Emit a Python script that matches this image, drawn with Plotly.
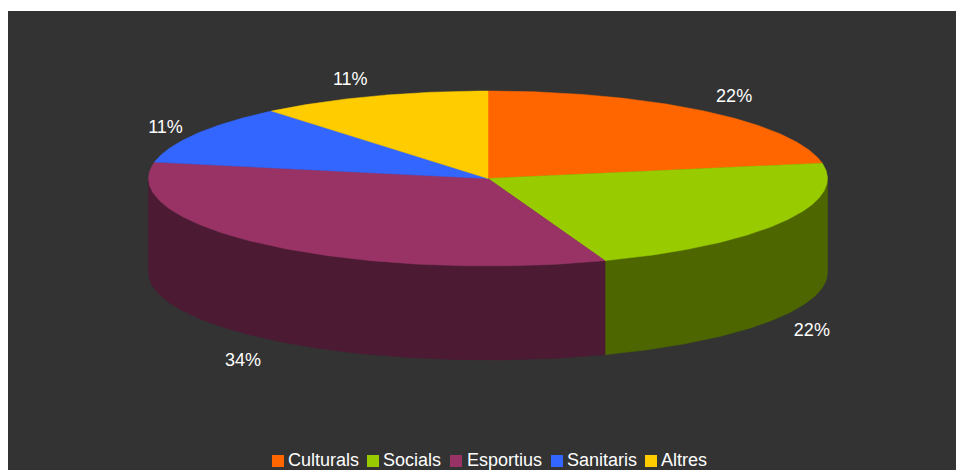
import numpy as np
import plotly.graph_objects as go

# --- data ---
categories = ["Culturals", "Socials", "Esportius", "Sanitaris", "Altres"]
values = [22.2, 22.2, 33.6, 11.0, 11.0]
percent_labels = ["22%", "22%", "34%", "11%", "11%"]

# --- style ---
top_colors = ["#ff6600", "#99cc00", "#993366", "#3366ff", "#ffcc00"]
wall_colors = ["#803300", "#4d6600", "#4d1a33", "#1a3380", "#806600"]
BG = "#333333"
FONT = "Liberation Sans"
FONT_SIZE = 18
W, H = 956, 470
LEFT, TOP = 8, 11
CX, CY, RX, RY, DEPTH = 488.0, 178.5, 339.5, 87.5, 94.0
LABEL_RX, LABEL_RY_TOP, LABEL_RY_BOTTOM = 377.0, 106.0, 114.0
LABEL_DX = [4, -3, -1, 2, -10]
LABEL_DY = [0, 2, 2, 4, 2]
LEGEND_SWATCH_X = [272, 367, 450, 551, 645]
LEGEND_TEXT_X = [288, 383, 467, 567, 661]
LEGEND_Y = 461
SWATCH = 12


def edge(t):
    return CX + RX * np.sin(t), CY - RY * np.cos(t)


fracs = np.array(values) / sum(values)
ends = np.cumsum(fracs) * 2 * np.pi
starts = ends - fracs * 2 * np.pi

fig = go.Figure()

# Side walls: only the front half of the disc (pi/2 .. 3pi/2) is visible
for name, a, b, col in zip(categories, starts, ends, wall_colors):
    lo, hi = max(a, np.pi / 2), min(b, 3 * np.pi / 2)
    if hi <= lo:
        continue
    t = np.linspace(lo, hi, 120)
    x, y = edge(t)
    px = np.concatenate([x, x[::-1], x[:1]])
    py = np.concatenate([y, y[::-1] + DEPTH, y[:1]])
    fig.add_trace(go.Scatter(x=px, y=py, mode="lines", fill="toself", fillcolor=col,
                             line=dict(color=col, width=0.5), hoverinfo="skip",
                             showlegend=False))

# Top faces
for name, a, b, col, val in zip(categories, starts, ends, top_colors, percent_labels):
    t = np.linspace(a, b, 160)
    x, y = edge(t)
    px = np.concatenate([[CX], x, [CX]])
    py = np.concatenate([[CY], y, [CY]])
    fig.add_trace(go.Scatter(x=px, y=py, mode="lines", fill="toself", fillcolor=col,
                             line=dict(color=col, width=0.5), name=name,
                             hoverinfo="name+text", text=val, showlegend=False))

# Percentage labels around the disc
mids = (starts + ends) / 2
lx = CX + LABEL_RX * np.sin(mids) + np.array(LABEL_DX)
ly = np.where(np.cos(mids) >= 0,
              CY - LABEL_RY_TOP * np.cos(mids),
              CY - LABEL_RY_BOTTOM * np.cos(mids) + DEPTH) + np.array(LABEL_DY)
fig.add_trace(go.Scatter(x=lx, y=ly, mode="text", text=percent_labels,
                         textposition="middle center",
                         textfont=dict(family=FONT, size=FONT_SIZE, color="white"),
                         hoverinfo="skip", showlegend=False))

# Legend row (tight spacing that Plotly's built-in legend cannot reach)
shapes, annotations = [], []
for name, col, sx, tx in zip(categories, top_colors, LEGEND_SWATCH_X, LEGEND_TEXT_X):
    shapes.append(dict(type="rect", xref="x", yref="y", x0=sx, x1=sx + SWATCH,
                       y0=LEGEND_Y - SWATCH / 2, y1=LEGEND_Y + SWATCH / 2,
                       fillcolor=col, line=dict(width=0)))
    annotations.append(dict(x=tx, y=LEGEND_Y - 1, xref="x", yref="y", text=name,
                            showarrow=False, xanchor="left", yanchor="middle",
                            xshift=-2, font=dict(family=FONT, size=FONT_SIZE, color="white")))

fig.update_layout(
    width=W, height=H, autosize=False,
    margin=dict(l=LEFT, t=TOP, r=0, b=0),
    paper_bgcolor="white", plot_bgcolor=BG,
    xaxis=dict(range=[LEFT, W], visible=False, fixedrange=True),
    yaxis=dict(range=[H, TOP], visible=False, fixedrange=True),
    shapes=shapes, annotations=annotations, showlegend=False,
)
fig.write_html(
    "out.html",
    config={"displayModeBar": False},
    post_script="document.documentElement.style.overflow='hidden';"
                "document.body.style.margin='0';",
)
